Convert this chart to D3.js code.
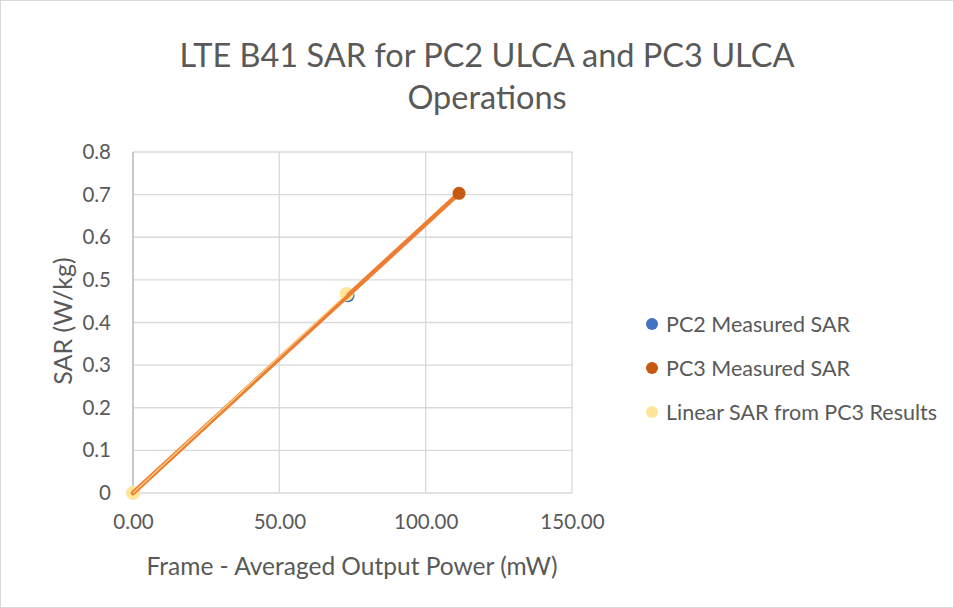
<!DOCTYPE html>
<html>
<head>
<meta charset="utf-8">
<script src="https://cdn.jsdelivr.net/npm/d3@7"></script>
<style>
  html, body { margin: 0; padding: 0; background: #fff; }
  svg { display: block; }
  text { font-family: Lato, "Open Sans", sans-serif; fill: #595959; }
</style>
</head>
<body>
<svg id="chart" width="954" height="608"></svg>
<script>
// Frame-averaged output power (mW) and SAR (W/kg)
const pc2Power = [0, 73.5];
const pc2Sar = [0, 0.463];
const pc3Power = [0, 111.4];
const pc3Sar = [0, 0.703];
const linPower = [0, 73.0];
const linSar = [0, 0.467];

const xTicks = [0, 50, 100, 150];
const yTicks = [0, 0.1, 0.2, 0.3, 0.4, 0.5, 0.6, 0.7, 0.8];

const seriesNames = ["PC2 Measured SAR", "PC3 Measured SAR", "Linear SAR from PC3 Results"];
const seriesColors = ["#4472c4", "#c55a11", "#ffe699"];

const titleLines = ["LTE B41 SAR for PC2 ULCA and PC3 ULCA", "Operations"];
const xTitle = "Frame - Averaged Output Power (mW)";
const yTitle = "SAR (W/kg)";

const svg = d3.select("#chart");
const W = 954, H = 608;

svg.append("rect").attr("x", 0.5).attr("y", 0.5).attr("width", W - 1).attr("height", H - 1)
  .attr("fill", "#fff").attr("stroke", "#d9d9d9");

const x = d3.scaleLinear().domain([0, 150]).range([133, 572]);
const y = d3.scaleLinear().domain([0, 0.8]).range([493, 152]);

// gridlines
const grid = svg.append("g");
grid.selectAll("line.h").data(yTicks).join("line")
  .attr("x1", x(0)).attr("x2", x(150))
  .attr("y1", d => y(d)).attr("y2", d => y(d))
  .attr("stroke", "#d9d9d9").attr("stroke-width", 1.3);
grid.selectAll("line.v").data(xTicks).join("line")
  .attr("y1", y(0)).attr("y2", y(0.8))
  .attr("x1", d => x(d)).attr("x2", d => x(d))
  .attr("stroke", "#d9d9d9").attr("stroke-width", 1.3);
// value axis line
svg.append("line").attr("x1", x(0)).attr("x2", x(0)).attr("y1", y(0)).attr("y2", y(0.8))
  .attr("stroke", "#bfbfbf").attr("stroke-width", 1.5);

// axes with D3 for tick labels
const xAxis = d3.axisBottom(x).tickValues(xTicks).tickFormat(d3.format(".2f")).tickSize(0).tickPadding(21);
const gx = svg.append("g").attr("transform", `translate(0,${y(0)})`).call(xAxis);
gx.select(".domain").remove();
gx.selectAll("text").style("font-size", "20.5px").attr("fill", "#595959");

const yAxis = d3.axisLeft(y).tickValues(yTicks).tickFormat(d => d === 0 ? "0" : d3.format(".1f")(d)).tickSize(0).tickPadding(22);
const gy = svg.append("g").attr("transform", `translate(${x(0)},0)`).call(yAxis);
gy.select(".domain").remove();
gy.selectAll("text").style("font-size", "20.5px").attr("fill", "#595959");

// series
const line = d3.line().x(d => x(d[0])).y(d => y(d[1]));
const pc2 = pc2Power.map((p, i) => [p, pc2Sar[i]]);
const pc3 = pc3Power.map((p, i) => [p, pc3Sar[i]]);
const lin = linPower.map((p, i) => [p, linSar[i]]);

svg.append("path").datum(pc2).attr("d", line).attr("fill", "none")
  .attr("stroke", seriesColors[0]).attr("stroke-width", 2.5);
svg.selectAll("circle.pc2").data(pc2).join("circle")
  .attr("cx", d => x(d[0])).attr("cy", d => y(d[1])).attr("r", 6.5).attr("fill", seriesColors[0]);

svg.selectAll("circle.lin").data(lin).join("circle")
  .attr("cx", d => x(d[0])).attr("cy", d => y(d[1])).attr("r", 7).attr("fill", seriesColors[2]);

svg.append("path").datum(pc3).attr("d", line).attr("fill", "none")
  .attr("stroke", "#ed7d31").attr("stroke-width", 4.5).attr("stroke-linecap", "round");
svg.selectAll("circle.pc3").data(pc3.slice(1)).join("circle")
  .attr("cx", d => x(d[0])).attr("cy", d => y(d[1])).attr("r", 6.5).attr("fill", seriesColors[1]);

svg.append("path").datum(lin).attr("d", line).attr("fill", "none")
  .attr("stroke", seriesColors[2]).attr("stroke-width", 1.2).attr("opacity", 0.8);

// title
svg.append("text").attr("x", 487).attr("y", 67).attr("text-anchor", "middle")
  .style("font-size", "32.5px").text(titleLines[0]);
svg.append("text").attr("x", 487).attr("y", 109).attr("text-anchor", "middle")
  .style("font-size", "32.5px").text(titleLines[1]);

// axis titles
svg.append("text").attr("x", 352).attr("y", 575).attr("text-anchor", "middle")
  .style("font-size", "24.5px").text(xTitle);
svg.append("text").attr("transform", "translate(72,321) rotate(-90)").attr("text-anchor", "middle")
  .style("font-size", "25px").text(yTitle);

// legend
const leg = svg.append("g").selectAll("g").data(seriesNames).join("g")
  .attr("transform", (d, i) => `translate(652,${324 + i * 44})`);
leg.append("circle").attr("r", 6).attr("fill", (d, i) => seriesColors[i]);
leg.append("text").attr("x", 14).attr("y", 7.5).style("font-size", "21.5px").text(d => d);
</script>
</body>
</html>
